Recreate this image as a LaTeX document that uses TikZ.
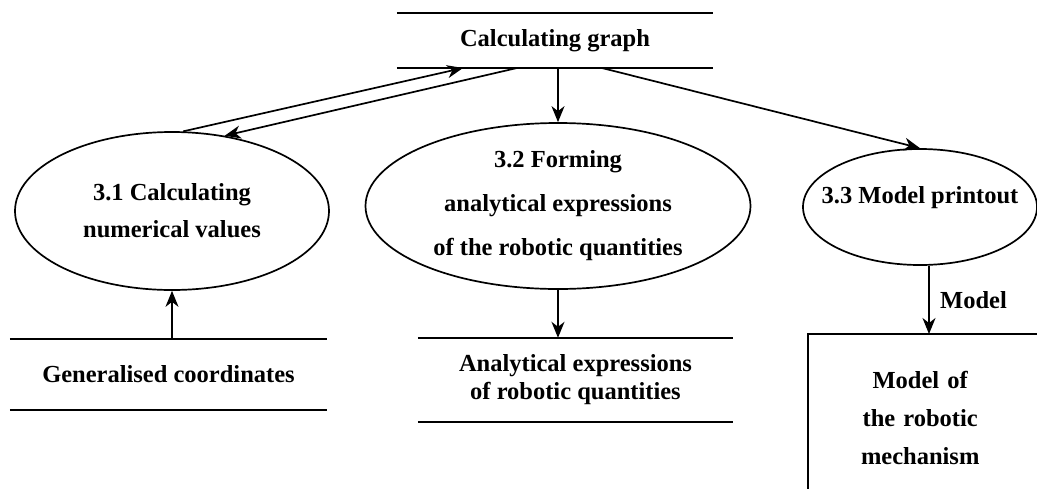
\documentclass[tikz,border=0pt]{standalone}
\usepackage{fontspec}
\setmainfont{Liberation Serif}
\usetikzlibrary{arrows.meta,calc,positioning,shapes.geometric}
\tikzset{
  proc/.style={ellipse,draw,line width=1.7pt,inner sep=0pt,align=center},
  store/.style={inner sep=0pt,align=center},
  flow/.style={line width=1.7pt,-{Stealth[length=16pt,width=13pt,inset=5pt]}},
  bar/.style={line width=1.7pt},
}

\begin{document}
\begin{tikzpicture}[x=1pt,y=-1pt,font=\bfseries\fontsize{24.5}{30}\selectfont]
\useasboundingbox (0,0) rectangle (1037,488);

\node[store,minimum width=316,minimum height=55] (G) at (555,40.5) {Calculating graph};
\node[store,minimum width=317,minimum height=71] (Q) at (168.5,374.5) {Generalised coordinates};
\node[store,minimum width=315,minimum height=84,font=\bfseries\fontsize{24.5}{28}\selectfont] (E) at (575.5,380) {Analytical expressions\\of robotic quantities};
\node[store,anchor=north west,text width=224,minimum height=168,font=\bfseries\fontsize{24.5}{38}\selectfont] (M) at (808,334) {Model of\\the robotic\\mechanism};

\node[proc,minimum width=314,minimum height=158,font=\bfseries\fontsize{24.5}{37}\selectfont] (P1) at (172,211) {3.1 Calculating\\numerical values};
\node[proc,minimum width=385,minimum height=166,font=\bfseries\fontsize{24.5}{44}\selectfont] (P2) at (558,206) {3.2 Forming\\analytical expressions\\of the robotic quantities};
\node[proc,minimum width=234,minimum height=116,inner xsep=-18pt,text depth=24pt] (P3) at (920,207) {3.3 Model printout};

\coordinate (g1) at (463,68);
\coordinate (g2) at (517,68);
\coordinate (g3) at (602,68);

\draw[bar] (G.north west) -- (G.north east) (G.south west) -- (G.south east);
\draw[bar] (Q.north west) -- (Q.north east) (Q.south west) -- (Q.south east);
\draw[bar] (E.north west) -- (E.north east) (E.south west) -- (E.south east);
\draw[bar] (M.south west) |- ([xshift=10pt]M.north east);

\draw[flow] (P1.82) -- (g1);
\draw[flow] (g2) -- (P1.55);
\draw[flow] (P2.north |- G.south) -- (P2.north);
\draw[flow] (g3) -- (P3.north);
\draw[flow] (P1.south |- Q.north) -- (P1.south);
\draw[flow] (P2.south) -- (P2.south |- E.north);
\draw[flow] ([xshift=9pt]P3.south) -- ([xshift=9pt]P3.south |- M.north) node[midway,right=7pt] {Model};

\end{tikzpicture}
\end{document}
